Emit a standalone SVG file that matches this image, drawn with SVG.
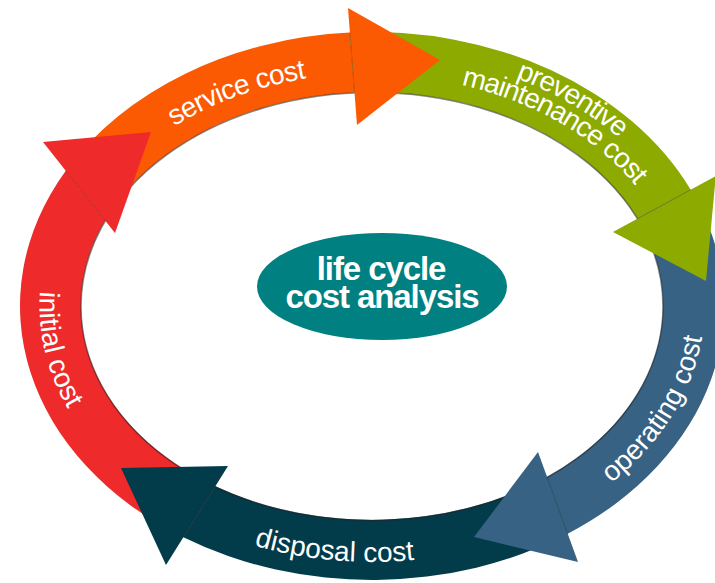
<svg xmlns="http://www.w3.org/2000/svg" width="715" height="583" viewBox="0 0 715 583">
<style>
.lbl{font-family:"Liberation Sans",Arial,sans-serif;font-size:28px;fill:#fff}
.tight{letter-spacing:-1px}
.ctr{font-family:"Liberation Sans",Arial,sans-serif;font-size:33px;font-weight:bold;fill:#fff;letter-spacing:-1.1px}
.seam{stroke:#000;stroke-opacity:.22;stroke-width:1;fill:none}
.shadow{fill:none;stroke:#222;stroke-opacity:.55;stroke-width:1.5}
</style>
<defs>
<path id="tp-service" d="M139.8,151.3 A310.5,233 0 0 1 348.2,73.7"/>
<path id="tp-prev1" d="M461.4,62.4 A330.5,253 0 0 1 657.4,178.4"/>
<path id="tp-prev2" d="M417.6,77.5 A308.5,231 0 0 1 659,221.3"/>
<path id="tp-operating" d="M585.7,501.3 A332.5,255 0 0 0 704.5,306"/>
<path id="tp-disposal" d="M211.3,530.3 A333.5,256 0 0 0 459.4,553"/>
<path id="tp-initial" d="M46.8,253 A332.5,255 0 0 0 90,441.1"/>
</defs>
<rect width="715" height="583" fill="#fff"/>
<g id="segments">
<g id="initial-cost">
<path fill="#EE2A2B" d="M183.4,537.3 A352,274 0 0 1 65.8,170.8 L105.1,220.5 A291,214 0 0 0 215.3,486.3 Z"/>
</g>
<g id="service-cost">
<path fill="#FB5A02" d="M65.8,170.8 A352,274 0 0 1 349.9,32.6 L354.5,92.5 A291,214 0 0 0 105.1,220.5 Z"/>
</g>
<g id="preventive-maintenance-cost">
<path fill="#8CAA00" d="M349.9,32.6 A352,274 0 0 1 690.7,189.7 L637.6,218.6 A291,214 0 0 0 354.5,92.5 Z"/>
</g>
<g id="operating-cost">
<path fill="#376283" d="M690.7,189.7 A352,274 0 0 1 567.7,533.7 L547,476.9 A291,214 0 0 0 637.6,218.6 Z"/>
</g>
<g id="disposal-cost">
<path fill="#023B4A" d="M567.7,533.7 A352,274 0 0 1 183.4,537.3 L215.3,486.3 A291,214 0 0 0 547,476.9 Z"/>
</g>
<ellipse class="shadow" cx="372" cy="306.5" rx="291" ry="214"/>
</g>
<g id="connectors">
<polygon fill="#EE2A2B" points="43,142 151,132 115,233"/>
<polygon fill="#FB5A02" points="348,8 440,60 357,125"/>
<polygon fill="#8CAA00" points="613,232 715.8,176 706,281"/>
<polygon fill="#376283" points="538,452 474,537 578,562"/>
<polygon fill="#023B4A" points="228,466 121,468 166,565"/>
<path class="seam" d="M65.8,170.8 L105.1,220.5 M349.9,32.6 L354.5,92.5 M690.7,189.7 L637.6,218.6 M567.7,533.7 L547,476.9 M183.4,537.3 L215.3,486.3"/>
</g>
<g id="labels">
<text class="lbl" style="letter-spacing:-0.6px"><textPath href="#tp-service" startOffset="50%" text-anchor="middle">service cost</textPath></text>
<text class="lbl tight"><textPath href="#tp-prev1" startOffset="50%" text-anchor="middle">preventive</textPath></text>
<text class="lbl tight"><textPath href="#tp-prev2" startOffset="50%" text-anchor="middle">maintenance cost</textPath></text>
<text class="lbl"><textPath href="#tp-operating" startOffset="50%" text-anchor="middle">operating cost</textPath></text>
<text class="lbl"><textPath href="#tp-disposal" startOffset="50%" text-anchor="middle">disposal cost</textPath></text>
<text class="lbl"><textPath href="#tp-initial" startOffset="50%" text-anchor="middle">initial cost</textPath></text>
</g>
<g id="center-node">
<ellipse cx="382" cy="286.5" rx="125" ry="53.5" fill="#008080"/>
<text class="ctr" x="381" y="280" text-anchor="middle">life cycle</text>
<text class="ctr" x="382" y="308" text-anchor="middle">cost analysis</text>
</g>
</svg>
